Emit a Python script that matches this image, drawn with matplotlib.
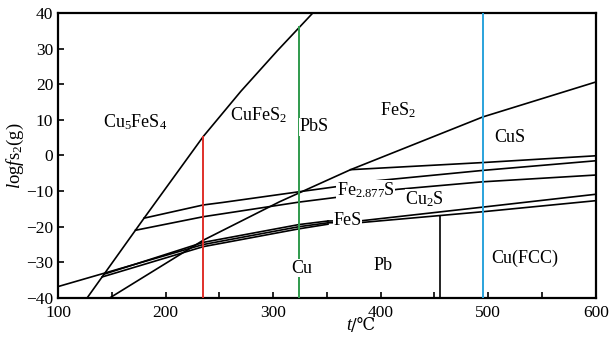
import numpy as np
import matplotlib
matplotlib.use("Agg")
import matplotlib.pyplot as plt

plt.rcParams['font.family'] = ['Liberation Serif', 'DejaVu Serif']
plt.rcParams['mathtext.fontset'] = 'custom'
plt.rcParams['mathtext.rm'] = 'Liberation Serif'
plt.rcParams['mathtext.it'] = 'Liberation Serif:italic'

# boundary lines, (t, log f_S2) pairs
cu5_cufe_t = [127, 180, 235, 270, 304, 337]
cu5_cufe_y = [-40, -17.6, 5.3, 18.0, 29.4, 40]

fes2_t = [148, 235, 306, 372, 495, 600]
fes2_y = [-40, -23.8, -13.0, -4.0, 10.8, 20.6]

cus_t = [372, 495, 600]
cus_y = [-4.0, -2.0, -0.1]

fe_up_t = [180, 235, 253, 324, 358, 386, 495, 600]
fe_up_y = [-17.6, -13.9, -13.2, -10.2, -8.8, -7.4, -4.2, -1.5]

fe_lo_t = [172, 235, 324, 358, 416, 495, 600]
fe_lo_y = [-21.0, -17.2, -13.1, -11.8, -9.5, -7.4, -5.5]

fes_a_t = [100, 235, 324, 351]
fes_a_y = [-36.8, -25.0, -20.0, -18.9]
fes_b_t = [141, 235, 324, 351]
fes_b_y = [-34.1, -25.6, -20.6, -19.3]
fes_c_t = [143, 235, 324, 351]
fes_c_y = [-33.3, -24.4, -19.4, -18.4]

cu2s_a_t = [351, 383, 495, 600]
cu2s_a_y = [-18.4, -18.3, -14.5, -10.9]
cu2s_b_t = [351, 383, 495, 600]
cu2s_b_y = [-18.9, -18.8, -15.8, -12.7]

pb_t = 455
pb_top = -16.9

# vertical marker lines (t, top)
v_lines = [(235, 5.3, '#e0302a'), (324, 36.0, '#2f9a4c'), (495, 40.0, '#2aa3dc')]

labels = [
    (172, 9.4, 'Cu$_5$FeS$_4$', False),
    (286, 11.4, 'CuFeS$_2$', False),
    (338, 8.0, 'PbS', True),
    (416, 12.8, 'FeS$_2$', False),
    (520, 4.9, 'CuS', False),
    (386, -9.7, 'Fe$_{2.877}$S', True),
    (441, -12.3, 'Cu$_2$S', True),
    (369, -18.3, 'FeS', True),
    (327, -31.6, 'Cu', True),
    (402, -31.0, 'Pb', False),
    (534, -29.0, 'Cu(FCC)', False),
]

fig = plt.figure(figsize=(6.11, 3.39), dpi=100)
ax = fig.add_axes([0.095, 0.121, 0.880, 0.841])

lw = 1.2
for t, y in [(cu5_cufe_t, cu5_cufe_y), (fes2_t, fes2_y), (cus_t, cus_y),
             (fe_up_t, fe_up_y), (fe_lo_t, fe_lo_y),
             (fes_a_t, fes_a_y), (fes_b_t, fes_b_y), (fes_c_t, fes_c_y),
             (cu2s_a_t, cu2s_a_y), (cu2s_b_t, cu2s_b_y)]:
    ax.plot(t, y, color='black', lw=lw, zorder=2)

ax.plot([pb_t, pb_t], [-40, pb_top], color='black', lw=lw, zorder=2)

for t, top, c in v_lines:
    ax.plot([t, t], [-40, top], color=c, lw=1.4, zorder=3)

for x, y, s, bg in labels:
    kw = {}
    if bg:
        kw['bbox'] = dict(facecolor='white', edgecolor='none', pad=0.3)
    ax.text(x, y, s, fontsize=13, ha='center', va='center', zorder=5, **kw)

ax.set_xlim(100, 600)
ax.set_ylim(-40, 40)
ax.set_xticks(np.arange(100, 601, 100))
ax.set_xticks(np.arange(150, 600, 50), minor=True)
ax.set_yticks(np.arange(-40, 41, 10))
ax.tick_params(axis='both', which='both', direction='in', labelsize=12.5,
               top=False, right=False, width=1.2)
ax.tick_params(which='major', length=4)
ax.tick_params(which='minor', length=4)
ax.tick_params(axis='x', pad=5)
for sp in ax.spines.values():
    sp.set_linewidth(1.6)

# x label: italic t, then /℃ from a font that has the sign
ax.text(0.545, -0.095, 't', transform=ax.transAxes, fontsize=13,
        style='italic', ha='right', va='center')
ax.text(0.545, -0.095, '/℃', transform=ax.transAxes, fontsize=12,
        ha='left', va='center', family=['DejaVu Serif'])
ax.set_ylabel('$l$og$f$s$_2$(g)', fontsize=13.5, labelpad=0)

fig.savefig('out.png', dpi=100)
